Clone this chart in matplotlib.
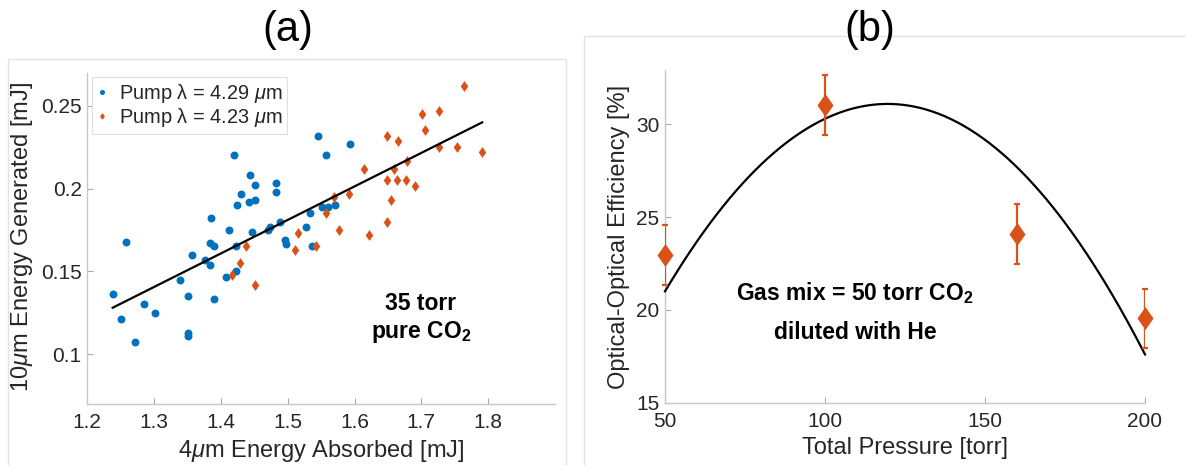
import numpy as np
import matplotlib
matplotlib.use("Agg")
import matplotlib.pyplot as plt
from matplotlib.path import Path
from matplotlib.lines import Line2D
from matplotlib.patches import Rectangle

plt.rcParams['font.family'] = ['Liberation Sans', 'DejaVu Sans']
plt.rcParams['mathtext.fontset'] = 'custom'
plt.rcParams['mathtext.rm'] = 'Liberation Sans'
plt.rcParams['mathtext.it'] = 'Liberation Sans:italic'
plt.rcParams['mathtext.bf'] = 'Liberation Sans:bold'

# ---- panel (a): absorbed vs generated energy ----
blue_absorbed = [1.238, 1.258, 1.251, 1.271, 1.285, 1.302, 1.339, 1.350, 1.350, 1.351,
                 1.356, 1.376, 1.383, 1.383, 1.385, 1.390, 1.389, 1.408, 1.412, 1.420,
                 1.423, 1.424, 1.423, 1.430, 1.443, 1.442, 1.447, 1.451, 1.451, 1.470,
                 1.473, 1.483, 1.483, 1.488, 1.496, 1.498, 1.528, 1.534, 1.536, 1.545,
                 1.551, 1.557, 1.560, 1.571, 1.593]
blue_generated = [0.136, 0.168, 0.121, 0.107, 0.130, 0.125, 0.145, 0.135, 0.113, 0.111,
                  0.160, 0.157, 0.154, 0.167, 0.182, 0.165, 0.133, 0.1465, 0.175, 0.220,
                  0.165, 0.190, 0.150, 0.197, 0.208, 0.192, 0.1735, 0.202, 0.193, 0.175,
                  0.1765, 0.2035, 0.198, 0.180, 0.169, 0.1665, 0.1765, 0.185, 0.165, 0.2317,
                  0.1888, 0.220, 0.1888, 0.190, 0.2268]

orange_absorbed = [1.416, 1.428, 1.438, 1.451, 1.511, 1.516, 1.542, 1.558, 1.569, 1.577,
                   1.592, 1.614, 1.621, 1.649, 1.649, 1.649, 1.654, 1.659, 1.664, 1.665,
                   1.677, 1.679, 1.691, 1.701, 1.705, 1.727, 1.727, 1.753, 1.764, 1.791]
orange_generated = [0.148, 0.155, 0.165, 0.1415, 0.163, 0.173, 0.165, 0.185, 0.195, 0.175,
                    0.197, 0.212, 0.1717, 0.2317, 0.205, 0.180, 0.193, 0.212, 0.205, 0.2285,
                    0.205, 0.2168, 0.2017, 0.2452, 0.2351, 0.2468, 0.225, 0.225, 0.262, 0.2218]

# linear fit (slope, intercept)
line_fit = [0.2025, -0.1227]

legend_labels = ['Pump λ = 4.29 $\\mu$m', 'Pump λ = 4.23 $\\mu$m']

# ---- panel (b): efficiency vs total pressure ----
pressure = [50, 100, 160, 200]
efficiency = [22.95, 31.05, 24.1, 19.55]
efficiency_err = [1.6, 1.6, 1.6, 1.6]
# quadratic fit coefficients (a, b, c)
quad_fit = [-0.0020869, 0.49907, 1.264]

BLUE = '#0072BD'
ORANGE = '#D95319'
AXIS_GRAY = '#c8c8c8'
TEXT = '#262626'
FRAME = '#e3e3e3'

# MATLAB-style diamond (narrower than a square rotated 45 degrees)
diamond = Path([(0, 1), (0.7, 0), (0, -1), (-0.7, 0), (0, 1)],
               [Path.MOVETO, Path.LINETO, Path.LINETO, Path.LINETO, Path.CLOSEPOLY])

W, H = 1186, 465
fig = plt.figure(figsize=(W / 100, H / 100), dpi=100)
fig.patch.set_facecolor('white')


def px_axes(left, top, right, bottom):
    return fig.add_axes([left / W, 1 - bottom / H, (right - left) / W, (bottom - top) / H])


def style(ax):
    for s in ('top', 'right'):
        ax.spines[s].set_visible(False)
    for s in ('left', 'bottom'):
        ax.spines[s].set_color(AXIS_GRAY)
        ax.spines[s].set_linewidth(1.0)
    ax.tick_params(direction='in', length=4, width=0.8, color='#a8a8a8',
                   labelsize=15, labelcolor=TEXT)


# panel frames
fig.patches.append(Rectangle((8 / W, -0.01), (566 - 8) / W, 1 - 59.3 / H + 0.01,
                             transform=fig.transFigure, fill=False, edgecolor=FRAME,
                             linewidth=1.0, zorder=0))
fig.patches.append(Rectangle((584 / W, -0.01), (W + 20 - 584) / W, 1 - 35.7 / H + 0.01,
                             transform=fig.transFigure, fill=False, edgecolor=FRAME,
                             linewidth=1.0, zorder=0))

# ---------------- panel (a) ----------------
axa = px_axes(87.3, 72.7, 555, 403.7)
style(axa)
axa.plot(blue_absorbed, blue_generated, linestyle='none', marker='o', markersize=5.7,
         markerfacecolor=BLUE, markeredgecolor='none', zorder=3)
axa.plot(orange_absorbed, orange_generated, linestyle='none', marker=diamond, markersize=7.8,
         markerfacecolor=ORANGE, markeredgecolor='none', zorder=3)
xs = np.array([min(blue_absorbed + orange_absorbed), max(blue_absorbed + orange_absorbed)])
axa.plot(xs, np.polyval(line_fit, xs), color='black', linewidth=1.6, zorder=4)
axa.set_xlim(1.2, 1.9)
axa.set_ylim(0.07, 0.27)
axa.set_xticks([1.2, 1.3, 1.4, 1.5, 1.6, 1.7, 1.8])
axa.set_xticklabels(['1.2', '1.3', '1.4', '1.5', '1.6', '1.7', '1.8'])
axa.set_yticks([0.1, 0.15, 0.2, 0.25])
axa.set_yticklabels(['0.1', '0.15', '0.2', '0.25'])
axa.tick_params(axis='x', pad=7)
axa.tick_params(axis='y', pad=4)
axa.set_xlabel('4$\\mu$m Energy Absorbed [mJ]', fontsize=17, color=TEXT)
axa.set_ylabel('10$\\mu$m Energy Generated [mJ]', fontsize=17, color=TEXT)
axa.xaxis.set_label_coords(0.5, -0.103)
axa.yaxis.set_label_coords(-0.112, 0.504)
handles = [Line2D([], [], linestyle='none', marker='o', markersize=2.6, color=BLUE),
           Line2D([], [], linestyle='none', marker=diamond, markersize=3.4, color=ORANGE)]
leg = axa.legend(handles, legend_labels, loc='upper left', fontsize=14.4,
                 bbox_to_anchor=(0.011, 0.986), borderaxespad=0, frameon=True,
                 fancybox=False, edgecolor='#d8d8d8', handlelength=0.55,
                 handletextpad=0.55, borderpad=0.22, labelspacing=0.08)
leg.get_frame().set_linewidth(0.8)
for t in leg.get_texts():
    t.set_color(TEXT)
axa.text(421 / W, 1 - 303 / H, '35 torr', transform=fig.transFigure, ha='center',
         va='center', fontsize=16.5, fontweight='bold', color='black')
axa.text(421 / W, 1 - 332 / H, 'pure CO$_{\\mathbf{2}}$', transform=fig.transFigure,
         ha='center', va='center', fontsize=16.5, fontweight='bold', color='black')

# ---------------- panel (b) ----------------
axb = px_axes(665, 70, 1145, 402.7)
style(axb)
xc = np.linspace(pressure[0], pressure[-1], 300)
axb.plot(xc, np.polyval(quad_fit, xc), color='black', linewidth=1.6, zorder=3)
axb.errorbar(pressure, efficiency, yerr=efficiency_err, fmt='none', ecolor=ORANGE,
             elinewidth=1.6, capsize=2.5, capthick=1.6, zorder=4)
axb.plot(pressure, efficiency, linestyle='none', marker=diamond, markersize=16.5,
         markerfacecolor=ORANGE, markeredgecolor='none', zorder=5)
axb.set_xlim(50, 200)
axb.set_ylim(15, 32.93)
axb.set_xticks([50, 100, 150, 200])
axb.set_yticks([15, 20, 25, 30])
axb.tick_params(axis='x', pad=7)
axb.tick_params(axis='y', pad=4)
axb.set_xlabel('Total Pressure [torr]', fontsize=17, color=TEXT)
axb.set_ylabel('Optical-Optical Efficiency [%]', fontsize=17, color=TEXT)
axb.xaxis.set_label_coords(0.5, -0.104)
axb.yaxis.set_label_coords(-0.073, 0.497)
for ax in (axa, axb):
    for line in ax.get_lines():
        line.set_clip_on(False)
axb.text(855 / W, 1 - 293 / H, 'Gas mix = 50 torr CO$_{\\mathbf{2}}$', transform=fig.transFigure,
         ha='center', va='center', fontsize=16.5, fontweight='bold', color='black')
axb.text(855 / W, 1 - 332 / H, 'diluted with He', transform=fig.transFigure,
         ha='center', va='center', fontsize=16.5, fontweight='bold', color='black')

# panel letters
fig.text(288 / W, 1 - 30 / H, '(a)', ha='center', va='center', fontsize=30, color='black')
fig.text(870 / W, 1 - 30 / H, '(b)', ha='center', va='center', fontsize=30, color='black')

fig.savefig('out.png', dpi=100, facecolor='white')
